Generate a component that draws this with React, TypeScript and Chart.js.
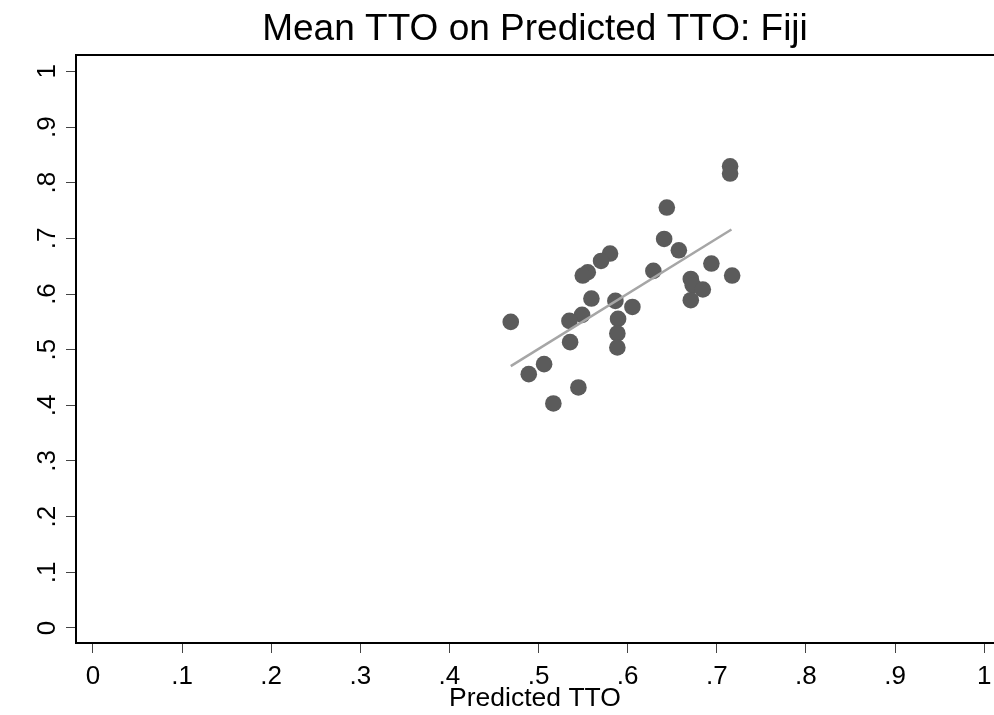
import React, { useEffect, useRef } from "react";
import { Chart, registerables } from "chart.js";

Chart.register(...registerables);

// Observed (Mean TTO) against predicted TTO, one point per health state
const predictedTTO = [
  0.7149, 0.7149, 0.6439, 0.6409, 0.6574, 0.5802, 0.5701, 0.5552, 0.5496, 0.6288,
  0.6939, 0.7172, 0.6708, 0.6730, 0.6843, 0.6708, 0.5593, 0.5862, 0.6053, 0.5488,
  0.5346, 0.5892, 0.4688, 0.5884, 0.5354, 0.5884, 0.5062, 0.4890, 0.5447, 0.5166,
];
const meanTTO = [
  0.8294, 0.8164, 0.7553, 0.6989, 0.6786, 0.6727, 0.6594, 0.6391, 0.6332, 0.6415,
  0.6548, 0.6332, 0.6271, 0.6158, 0.6081, 0.5889, 0.5919, 0.5876, 0.5768, 0.5625,
  0.5517, 0.5553, 0.5499, 0.5291, 0.5135, 0.5039, 0.4740, 0.4560, 0.4321, 0.4034,
];

// Fitted regression line end points
const fitX = [0.4688, 0.7164];
const fitY = [0.4704, 0.7158];

const xTickLabels = ["0", ".1", ".2", ".3", ".4", ".5", ".6", ".7", ".8", ".9", "1"];
const yTickLabels = ["0", ".1", ".2", ".3", ".4", ".5", ".6", ".7", ".8", ".9", "1"];

const titleText = "Mean TTO on Predicted TTO: Fiji";
const xAxisTitle = "Predicted TTO";

export default function App() {
  const ref = useRef<HTMLCanvasElement | null>(null);

  useEffect(() => {
    if (!ref.current) return;
    const scatterData = predictedTTO.map((x, i) => ({ x, y: meanTTO[i] }));
    const lineData = fitX.map((x, i) => ({ x, y: fitY[i] }));
    const tickFont = { family: "'Liberation Sans', Arial, sans-serif", size: 26 };

    const chart = new Chart(ref.current, {
      type: "scatter",
      data: {
        datasets: [
          {
            type: "line",
            data: lineData,
            borderColor: "#a6a6a6",
            borderWidth: 2.5,
            pointRadius: 0,
            fill: false,
            order: 0,
          } as any,
          {
            data: scatterData,
            backgroundColor: "#5b5b5b",
            borderWidth: 0,
            pointRadius: 8.3,
            pointHoverRadius: 8.3,
            order: 1,
          },
        ],
      },
      options: {
        responsive: false,
        animation: false,
        events: [],
        layout: { padding: 0, autoPadding: false },
        plugins: {
          legend: { display: false },
          tooltip: { enabled: false },
          title: {
            display: true,
            text: titleText,
            color: "#000",
            fullSize: false,
            font: { family: "'Liberation Sans', Arial, sans-serif", size: 37, weight: "normal" },
            padding: { top: 8, bottom: 3 },
          },
        },
        scales: {
          x: {
            type: "linear",
            position: "bottom",
            min: -0.019,
            max: 1.011,
            afterFit: (s: any) => {
              s.height = 72;
              s.paddingLeft = 0;
              s.paddingRight = 0;
            },
            ticks: {
              stepSize: 0.1,
              includeBounds: false,
              autoSkip: false,
              maxRotation: 0,
              minRotation: 0,
              color: "#000",
              font: tickFont,
              padding: 8,
              callback: (_v: any, i: number) => xTickLabels[i],
            },
            grid: {
              display: true,
              drawOnChartArea: false,
              drawTicks: true,
              tickLength: 10,
              color: "#444",
              lineWidth: 1,
            },
            border: { display: true, color: "#000", width: 2 },
            title: {
              display: true,
              text: xAxisTitle,
              color: "#000",
              font: { family: "'Liberation Sans', Arial, sans-serif", size: 26.5 },
              padding: 0,
            },
          },
          xTop: {
            type: "linear",
            position: "top",
            min: -0.019,
            max: 1.011,
            afterFit: (s: any) => {
              s.height = 0;
              s.paddingLeft = 0;
              s.paddingRight = 0;
            },
            ticks: { display: false },
            grid: { display: false, drawTicks: false },
            border: { display: true, color: "#000", width: 2 },
          },
          y: {
            type: "linear",
            position: "left",
            min: -0.027,
            max: 1.0287,
            afterFit: (s: any) => {
              s.width = 76;
              s.paddingTop = 0;
              s.paddingBottom = 0;
            },
            ticks: {
              stepSize: 0.1,
              includeBounds: false,
              autoSkip: false,
              minRotation: 90,
              maxRotation: 90,
              crossAlign: "center",
              color: "#000",
              font: tickFont,
              padding: 7,
              callback: (_v: any, i: number) => yTickLabels[i],
            },
            grid: {
              display: true,
              drawOnChartArea: false,
              drawTicks: true,
              tickLength: 10,
              color: "#444",
              lineWidth: 1,
            },
            border: { display: true, color: "#000", width: 2 },
          },
        },
      } as any,
    });
    return () => chart.destroy();
  }, []);

  return (
    <div
      style={{
        position: "fixed",
        left: 0,
        top: 0,
        width: 994,
        height: 715,
        background: "#fff",
      }}
    >
      <canvas ref={ref} width={994} height={715} style={{ display: "block" }} />
    </div>
  );
}
